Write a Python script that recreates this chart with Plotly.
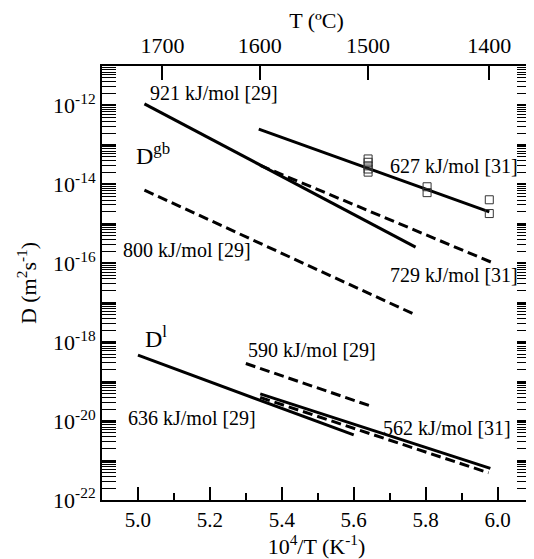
import plotly.graph_objects as go

# ---- data ----
gb_921_x = [5.018, 5.772]; gb_921_D = [1.10e-12, 2.57e-16]
gb_800_x = [5.018, 5.770]; gb_800_D = [7.16e-15, 5.01e-18]
gb_627_x = [5.336, 5.977]; gb_627_D = [2.51e-13, 2.00e-15]
gb_729_x = [5.340, 5.982]; gb_729_D = [3.02e-14, 1.07e-16]
l_636_x = [5.000, 5.600]; l_636_D = [4.68e-19, 4.47e-21]
l_590_x = [5.300, 5.654]; l_590_D = [2.88e-19, 2.29e-20]
l_562_x = [5.340, 5.980]; l_562_D = [4.90e-20, 6.31e-22]
l_dash_x = [5.340, 5.975]; l_dash_D = [3.98e-20, 4.90e-22]

exp_x = [5.64, 5.64, 5.64, 5.64, 5.64, 5.804, 5.804, 5.977, 5.977]
exp_D = [4.41e-14, 3.63e-14, 2.95e-14, 2.45e-14, 2.04e-14, 8.7e-15, 6.17e-15, 4.07e-15, 1.82e-15]

x_ticks = [5.0, 5.2, 5.4, 5.6, 5.8, 6.0]
x_minor = [4.9, 5.1, 5.3, 5.5, 5.7, 5.9]
T_celsius = [1700, 1600, 1500, 1400]
y_exponents = list(range(-22, -10))

FONT = "Times New Roman, Liberation Serif, DejaVu Serif, serif"

fig = go.Figure()

def add_line(x, y, dash):
    fig.add_trace(go.Scatter(x=x, y=y, mode="lines",
                             line=dict(color="black", width=3, dash=dash),
                             showlegend=False, hoverinfo="skip"))

add_line(gb_921_x, gb_921_D, "solid")
add_line(gb_800_x, gb_800_D, "10px,5px")
add_line(gb_627_x, gb_627_D, "solid")
add_line(gb_729_x, gb_729_D, "10px,5px")
add_line(l_636_x, l_636_D, "solid")
add_line(l_590_x, l_590_D, "10px,5px")
add_line(l_562_x, l_562_D, "solid")
add_line(l_dash_x, l_dash_D, "10px,5px")

fig.add_trace(go.Scatter(x=exp_x, y=exp_D, mode="markers",
                         marker=dict(symbol="square-open", size=8, color="#333333",
                                     line=dict(width=1, color="#333333")),
                         showlegend=False, hoverinfo="skip"))

# invisible trace to activate top axis
fig.add_trace(go.Scatter(x=[None], y=[None], xaxis="x2", yaxis="y",
                         mode="lines", showlegend=False, hoverinfo="skip"))

x_range = [4.9, 6.093]
top_vals = [1e4 / (t + 273.15) for t in T_celsius]

y_tickvals = [10.0 ** e for e in y_exponents]
y_ticktext = [("10<sup>%d</sup>" % e) if e % 2 == 0 else "" for e in y_exponents]
y_minor = [d * 10.0 ** e for e in range(-22, -11) for d in range(2, 10)]

# page body has an 8px margin: figure is 526x551 placed at (8, 8)
fig.update_layout(
    width=526, height=551,
    margin=dict(l=94, r=1, t=58, b=59),
    paper_bgcolor="white", plot_bgcolor="white",
    font=dict(family=FONT, size=22, color="black"),
    xaxis=dict(range=x_range, tickmode="array", tickvals=x_ticks,
               ticktext=["%.1f" % v for v in x_ticks],
               tickfont=dict(size=21),
               ticks="inside", ticklen=13, tickwidth=1.5, tickcolor="black",
               ticklabelstandoff=0,
               minor=dict(tickmode="array", tickvals=x_minor, ticks="inside",
                          ticklen=7, tickwidth=1.5, tickcolor="black"),
               showline=True, linewidth=2, linecolor="black", mirror=True,
               showgrid=False, zeroline=False,
               title=dict(text="10<sup>4</sup>/T (K<sup>-1</sup>)", standoff=6,
                          font=dict(size=22))),
    xaxis2=dict(range=x_range, overlaying="x", side="top", tickmode="array",
                tickvals=top_vals, ticktext=[str(t) for t in T_celsius],
                ticks="inside", ticklen=14, tickwidth=1.5, tickcolor="black",
                ticklabelstandoff=8,
                showline=False, showgrid=False, zeroline=False,
                title=dict(text="T (ºC)", standoff=2, font=dict(size=22))),
    yaxis=dict(type="log", range=[-22, -11], tickmode="array",
               tickvals=y_tickvals, ticktext=y_ticktext,
               ticks="inside", ticklen=14, tickwidth=1.5, tickcolor="black",
               minor=dict(tickmode="array", tickvals=y_minor, ticks="inside",
                          ticklen=7, tickwidth=1, tickcolor="black"),
               showline=True, linewidth=2, linecolor="black", mirror="allticks",
               showgrid=False, zeroline=False,
               title=dict(text="D (m<sup>2</sup>s<sup>-1</sup>)", standoff=10,
                          font=dict(size=22))),
)

ann = [
    (5.027, -11.68, "921 kJ/mol [29]", "left", 20),
    (4.99, -13.22, "D<sup>gb</sup>", "left", 24),
    (4.954, -15.67, "800 kJ/mol [29]", "left", 20),
    (6.062, -13.53, "627 kJ/mol [31]", "right", 20),
    (6.062, -16.29, "729 kJ/mol [31]", "right", 20),
    (5.013, -17.88, "D<sup>l</sup>", "left", 24),
    (5.300, -18.21, "590 kJ/mol [29]", "left", 20),
    (4.966, -19.92, "636 kJ/mol [29]", "left", 20),
    (6.043, -20.17, "562 kJ/mol [31]", "right", 20),
]
for x, y, t, xa, s in ann:
    fig.add_annotation(x=x, y=y, xref="x", yref="y", text=t, showarrow=False,
                       xanchor=xa, yanchor="middle", font=dict(size=s),
                       bgcolor="rgba(0,0,0,0)")

fig.write_html("out.html")
